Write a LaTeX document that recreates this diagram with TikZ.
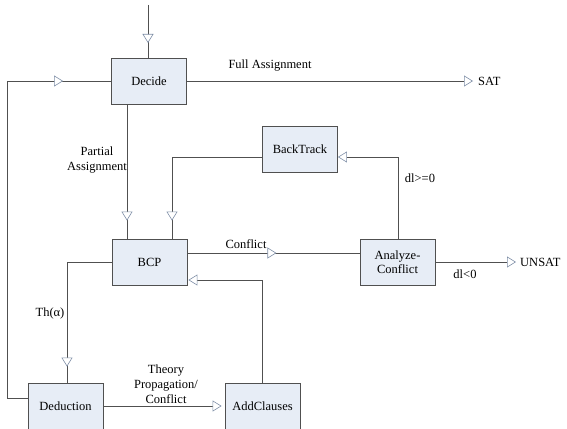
\documentclass[tikz,border=0pt]{standalone}
\usepackage{fontspec}
\setmainfont{Liberation Serif}
\usetikzlibrary{arrows.meta,decorations.markings}
\begin{document}
\begin{tikzpicture}[x=1pt,y=-1pt,
  every node/.style={font=\fontsize{12.5}{15}\selectfont, text=black},
  blk/.style={draw=boxline, fill=boxfill, line width=0.8pt, minimum width=75pt, minimum height=46pt, inner sep=0pt, align=center},
  lbl/.style={align=center, inner sep=0pt},
  wire/.style={draw=wirecol, line width=0.7pt},
  tri/.tip={Triangle[length=9pt,width=11pt,fill=white,color=tricol,line width=0.6pt]},
  endtri/.style={-{Triangle[length=9pt,width=11pt,fill=white,color=tricol,line width=0.6pt]}},
  midtri/.style={postaction={decorate}, decoration={markings, mark=at position #1 with {\arrow{tri}}}}
]
\definecolor{boxfill}{HTML}{E7EDF6}
\definecolor{boxline}{HTML}{505050}
\definecolor{wirecol}{HTML}{505050}
\definecolor{tricol}{HTML}{8090A8}
\useasboundingbox (0,0) rectangle (567,428);
\begin{scope}
\clip (0,0) rectangle (567,428);
% boxes
\node[blk] (decide) at (149,81) {Decide};
\node[blk] (back) at (300,149.5) {BackTrack};
\node[blk] (bcp) at (149.5,262) {BCP};
\node[blk] (ac) at (397.5,262) {Analyze-\\[-1pt]Conflict};
\node[blk] (ded) at (65.5,406) {Deduction};
\node[blk] (add) at (262.5,406) {AddClauses};

\coordinate (start) at (148,5);
\coordinate (sat) at (473,81);
\coordinate (unsat) at (516,262);

% connectors
\draw[wire, midtri=38pt] (start) -- (start |- decide.north);
\draw[wire, midtri=-48pt] (ded.west |- 0,398) -- (7,398) -- (7,81) -- (decide.west);
\draw[wire, endtri] (decide.east) -- (sat);
\draw[wire, midtri=-18pt] (decide.south -| 127,0) -- (bcp.north -| 127,0);
\draw[wire, midtri=-18pt] (back.west |- 0,157) -- (172,157) -- (bcp.north -| 172,0);
\draw[wire, midtri=89pt] (bcp.east |- 0,253) -- (ac.west |- 0,253);
\draw[wire, endtri] (ac.north -| 398,0) -- (398,157) -- (back.east |- 0,157);
\draw[wire, endtri] (ac.east) -- (unsat);
\draw[wire, midtri=-16pt] (bcp.west) -- (67,262) -- (ded.north -| 67,0);
\draw[wire, endtri] (ded.east) -- ([xshift=-3pt]add.west);
\draw[wire, endtri] (add.north) -- (262.5,280) -- ([xshift=1pt]bcp.east |- 0,280);

% labels
\node[lbl] (lfull) at (270,66) {Full Assignment};
\node[lbl, anchor=west] (lsat) at (478,81) {SAT};
\node[lbl] (lpart) at (97,160) {Partial\\Assignment};
\node[lbl] (lconf) at (246,244) {Conflict};
\node[lbl] (lge) at (420,178) {dl>=0};
\node[lbl, anchor=west] (lunsat) at (520,262) {UNSAT};
\node[lbl] (llt) at (465,274) {dl<0};
\node[lbl] (lth) at (50,313) {Th(α)};
\node[lbl] (ltp) at (166,384) {Theory\\Propagation/\\Conflict};
\end{scope}
\end{tikzpicture}
\end{document}
